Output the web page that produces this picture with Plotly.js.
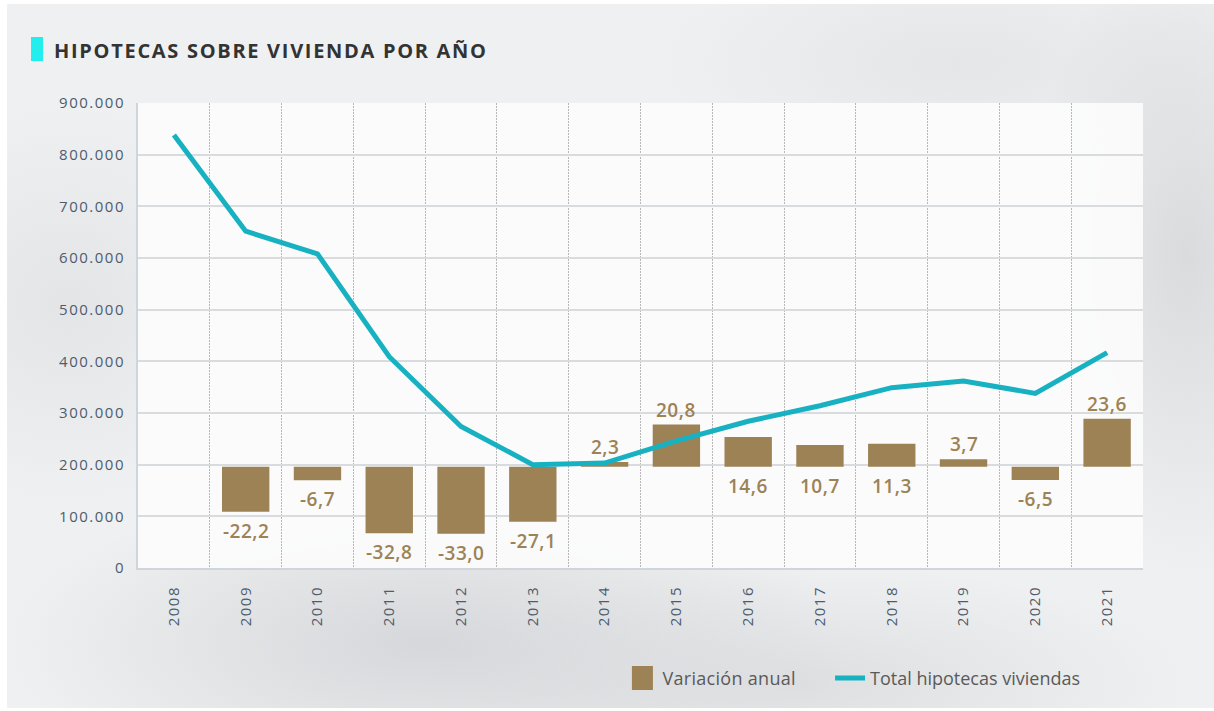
<!DOCTYPE html>
<html>
<head>
<meta charset="utf-8">
<script src="https://cdn.plot.ly/plotly-3.0.1.min.js"></script>
<style>
html,body{margin:0;padding:0;background:#ffffff;width:1214px;height:711px;overflow:hidden;}
#bg{position:absolute;left:7px;top:4px;width:1207px;height:704px;
background:
 radial-gradient(ellipse 420px 160px at 420px 640px, rgba(205,207,211,0.75), rgba(205,207,211,0) 100%),
 radial-gradient(ellipse 380px 120px at 800px 680px, rgba(210,212,215,0.6), rgba(210,212,215,0) 100%),
 radial-gradient(ellipse 160px 320px at 1180px 250px, rgba(208,210,213,0.7), rgba(208,210,213,0) 100%),
 radial-gradient(ellipse 200px 200px at 60px 300px, rgba(220,221,223,0.6), rgba(220,221,223,0) 100%),
 radial-gradient(ellipse 300px 120px at 950px 60px, rgba(222,223,225,0.6), rgba(222,223,225,0) 100%),
 #eff0f1;}
#chart{position:absolute;left:0;top:0;width:1214px;height:711px;}
.xtick text,.ytick text,.y2tick text{letter-spacing:1.5px;}
.gtitle{letter-spacing:1.7px;}
.legendtext{letter-spacing:0.3px;}
.legend2 .legendtext{letter-spacing:0.6px;}
.annotation-text{letter-spacing:0.5px;}
.legendpoints path.legendundefined,
.legendpoints path.legendbar,
.legendpoints path[d="M6,6H-6V-6H6Z"]{transform:translate(20px,0px) scale(1.75,2);}
.legendpoints path.js-line{stroke-linecap:round;transform:translate(2px,0px) scale(0.8,1);}
</style>
</head>
<body>
<div id="bg"></div>
<div id="chart"></div>
<script>
// ---- data ----
var years = ['2008','2009','2010','2011','2012','2013','2014','2015','2016','2017','2018','2019','2020','2021'];
var totalHipotecas = [838000, 652000, 608000, 409000, 274000, 200000, 203000, 246000, 284000, 314000, 349000, 362000, 338000, 417000];
var variacionAnual = [null, -22.2, -6.7, -32.8, -33.0, -27.1, 2.3, 20.8, 14.6, 10.7, 11.3, 3.7, -6.5, 23.6];
var labelPos = [null, 'below', 'below', 'below', 'below', 'below', 'above', 'above', 'below', 'below', 'below', 'above', 'below', 'above'];
var yTickVals = [0, 100000, 200000, 300000, 400000, 500000, 600000, 700000, 800000, 900000];

var gold = '#9d8256';
var teal = '#17b1c1';

function fmt(v){ return v.toFixed(1).replace('.', ','); }

var annotations = [];
for (var i = 0; i < years.length; i++) {
  var v = variacionAnual[i];
  if (v === null) continue;
  var below = labelPos[i] === 'below';
  annotations.push({
    x: i, xref: 'x', yref: 'y',
    y: below ? Math.min(v, 0) : Math.max(v, 0),
    yanchor: below ? 'top' : 'bottom',
    yshift: below ? -4 : 0,
    text: fmt(v), showarrow: false,
    font: {family: 'Open Sans, sans-serif', size: 19, color: gold, weight: 600}
  });
}

var traces = [
  {
    type: 'bar', name: 'Variación anual',
    x: years, y: variacionAnual, yaxis: 'y', xaxis: 'x',
    width: 0.66,
    marker: {color: gold},
    legend: 'legend',
    hoverinfo: 'skip'
  },
  {
    type: 'scatter', mode: 'lines', name: 'Total hipotecas viviendas',
    x: years, y: totalHipotecas, yaxis: 'y2', xaxis: 'x',
    line: {color: teal, width: 5},
    legend: 'legend2',
    hoverinfo: 'skip'
  }
];

var legendFont = {family: 'Open Sans, sans-serif', size: 18, color: '#5a5a5a'};

var layout = {
  width: 1214, height: 711,
  margin: {l: 138, r: 71, t: 103, b: 143, pad: 0},
  paper_bgcolor: 'rgba(0,0,0,0)',
  plot_bgcolor: 'rgba(252,252,252,0.92)',
  separators: ',.',
  showlegend: true,
  title: {
    text: 'HIPOTECAS SOBRE VIVIENDA POR AÑO',
    xref: 'container', yref: 'container',
    x: 54 / 1214, xanchor: 'left',
    y: 1 - 51 / 711, yanchor: 'middle',
    font: {family: 'Open Sans, sans-serif', size: 20, color: '#333333', weight: 700}
  },
  xaxis: {
    type: 'category',
    tickson: 'boundaries',
    showgrid: true, gridcolor: '#b8b8b8', gridwidth: 1, griddash: '2px,1px',
    showline: true, linecolor: '#cfd5da', linewidth: 2,
    ticks: '', tickangle: -90,
    ticklabelstandoff: 10,
    tickfont: {family: 'Open Sans, sans-serif', size: 15, color: '#4d5c6e'},
    range: [-0.5, 13.5], fixedrange: true
  },
  yaxis: {
    range: [-49.9, 179.2], fixedrange: true,
    showgrid: false, zeroline: false, showline: false,
    showticklabels: false, ticks: ''
  },
  yaxis2: {
    overlaying: 'y', side: 'left',
    range: [0, 900000], tickvals: yTickVals, tickformat: ',d',
    showgrid: true, gridcolor: '#d9dcdf', gridwidth: 2,
    zeroline: false,
    showline: true, linecolor: '#cfd5da', linewidth: 2,
    ticks: '', ticklabelstandoff: 8,
    tickfont: {family: 'Open Sans, sans-serif', size: 15, color: '#4d5c6e'},
    fixedrange: true
  },
  legend: {
    orientation: 'h',
    x: 0.482, xanchor: 'left',
    y: -0.237, yanchor: 'middle',
    bgcolor: 'rgba(0,0,0,0)',
    font: legendFont
  },
  legend2: {
    orientation: 'h',
    x: 0.6886, xanchor: 'left',
    y: -0.237, yanchor: 'middle',
    bgcolor: 'rgba(0,0,0,0)',
    font: legendFont
  },
  annotations: annotations,
  shapes: [{
    type: 'rect', xref: 'paper', yref: 'paper',
    x0: (31 - 138) / 1005, x1: (43 - 138) / 1005,
    y0: (568 - 61) / 465, y1: (568 - 37) / 465,
    fillcolor: '#22eeee', line: {width: 0}
  }]
};

Plotly.newPlot('chart', traces, layout, {displayModeBar: false, staticPlot: true});
</script>
</body>
</html>
